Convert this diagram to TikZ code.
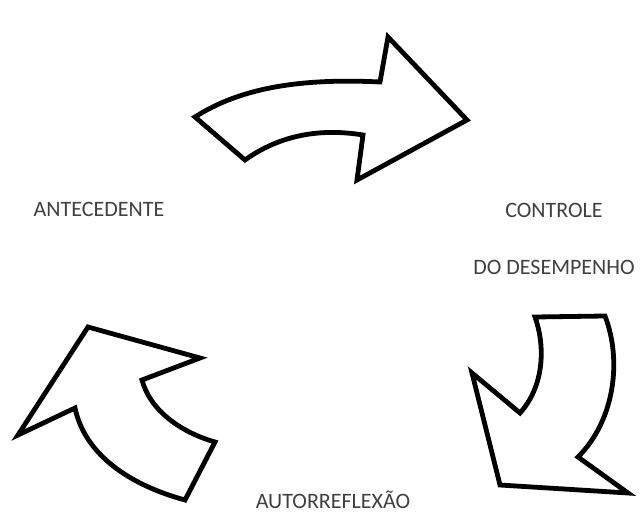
\documentclass[tikz,border=0pt]{standalone}
\usepackage{fontspec}
\setmainfont{Carlito}
\usepackage{tikz}
\usetikzlibrary{positioning}
\usepackage{xcolor}

\begin{document}
\begin{tikzpicture}[
    x=1pt,y=-1pt,
    label/.style={text=black!75,font=\fontsize{22}{26}\selectfont,inner sep=0pt,anchor=base},
    bigarrow/.style={draw=black,line width=4.8pt,line join=miter,fill=white}
]
\useasboundingbox (0,0) rectangle (640,513);

% the three curved arrows
\draw[bigarrow] (195,117) .. controls (240,88) and (300,78) .. (380,82)
    -- (388,37) -- (467,120) -- (357,180) -- (363,135)
    .. controls (320,128) and (280,135) .. (245,160) -- cycle;
\draw[bigarrow] (535,317) -- (605,316) .. controls (622,360) and (615,420) .. (578,457)
    -- (628,493) -- (500,485) -- (472,373) -- (520,413)
    .. controls (545,385) and (545,345) .. (535,317) -- cycle;
\draw[bigarrow] (88,327) -- (200,358) -- (142,380)
    .. controls (150,410) and (180,432) .. (215,442) -- (185,500)
    .. controls (130,485) and (85,455) .. (75,408) -- (18,435) -- cycle;

\node[label] (ante) at (99,217) {ANTECEDENTE};
\node[label] (contr) at (554,218) {CONTROLE};
\node[label,below=57pt of contr.base,anchor=base] (desemp) {DO DESEMPENHO};
\node[label] (auto) at (333,508) {AUTORREFLEXÃO};
\end{tikzpicture}
\end{document}
